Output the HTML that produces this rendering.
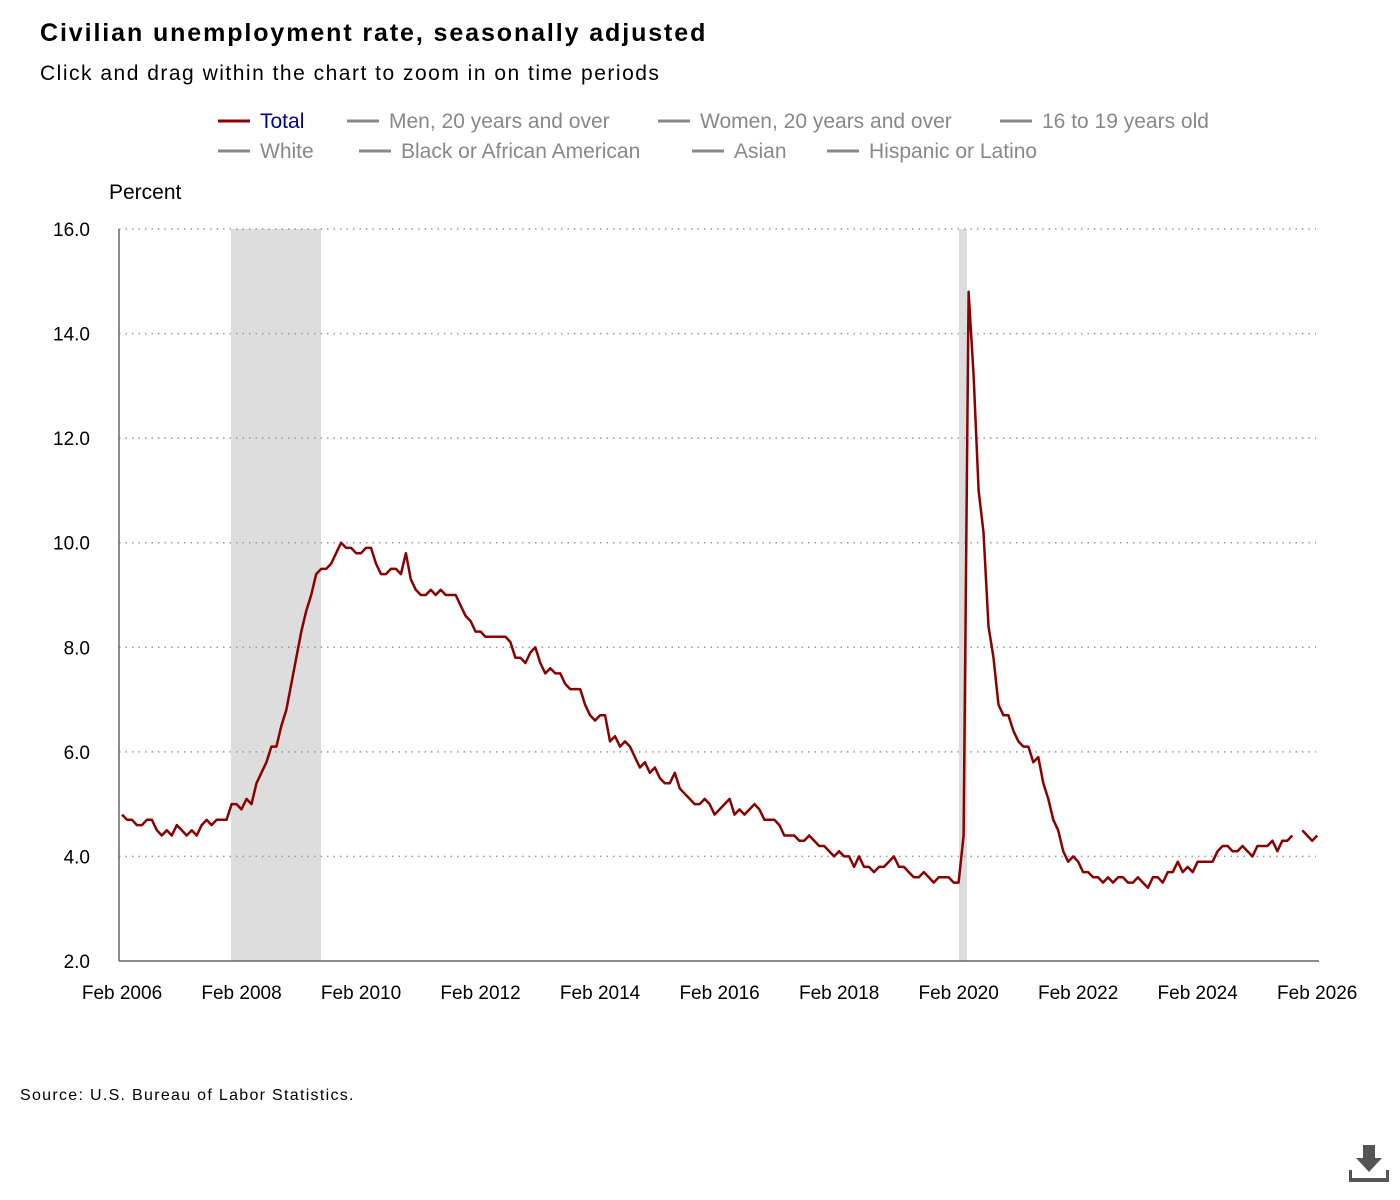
<!DOCTYPE html>
<html><head><meta charset="utf-8">
<style>
html,body{margin:0;padding:0;background:#fff;width:1400px;height:1200px;overflow:hidden;font-family:"Liberation Sans",sans-serif;}
</style></head>
<body>
<svg id="s" width="1400" height="1200" xmlns="http://www.w3.org/2000/svg" font-family="Liberation Sans, sans-serif">
<text x="40" y="41" font-size="25" font-weight="bold" fill="#000" letter-spacing="1.9">Civilian unemployment rate, seasonally adjusted</text>
<text x="40" y="80" font-size="21" fill="#000" letter-spacing="1.5">Click and drag within the chart to zoom in on time periods</text>
<g font-size="21" fill="#888">
<line x1="218" y1="121" x2="250" y2="121" stroke="#8b0000" stroke-width="3"/><text x="260" y="128" fill="#00008b">Total</text>
<line x1="347" y1="121" x2="379" y2="121" stroke="#888" stroke-width="3"/><text x="389" y="128">Men, 20 years and over</text>
<line x1="658" y1="121" x2="690" y2="121" stroke="#888" stroke-width="3"/><text x="700" y="128">Women, 20 years and over</text>
<line x1="1000" y1="121" x2="1032" y2="121" stroke="#888" stroke-width="3"/><text x="1042" y="128">16 to 19 years old</text>
<line x1="218" y1="151" x2="250" y2="151" stroke="#888" stroke-width="3"/><text x="260" y="158">White</text>
<line x1="359" y1="151" x2="391" y2="151" stroke="#888" stroke-width="3"/><text x="401" y="158">Black or African American</text>
<line x1="692" y1="151" x2="724" y2="151" stroke="#888" stroke-width="3"/><text x="734" y="158">Asian</text>
<line x1="827" y1="151" x2="859" y2="151" stroke="#888" stroke-width="3"/><text x="869" y="158">Hispanic or Latino</text>
</g>
<text x="109" y="199" font-size="21" fill="#000">Percent</text>
<rect x="231" y="229" width="90" height="732" fill="#dddddd"/>
<rect x="959" y="229" width="8" height="732" fill="#dddddd"/>
<g id="grid"></g>
<line x1="119" y1="229" x2="119" y2="961" stroke="#666" stroke-width="1.5"/>
<line x1="119" y1="961" x2="1319" y2="961" stroke="#666" stroke-width="1.5"/>
<g id="lab" font-size="19" fill="#000"></g>
<path id="p" fill="none" stroke="#8b0000" stroke-width="2.5" stroke-linejoin="round"/>
<text x="20" y="1100" font-size="16" fill="#000" letter-spacing="1.3">Source: U.S. Bureau of Labor Statistics.</text>
<g fill="#555"><rect x="1363" y="1145" width="12" height="14"/><polygon points="1356,1158 1382,1158 1369,1172"/><rect x="1349" y="1178" width="40" height="4"/><rect x="1349" y="1170" width="3" height="10"/><rect x="1386" y="1170" width="3" height="10"/></g>
</svg>
<script>
var d=[4.8,4.7,4.7,4.6,4.6,4.7,4.7,4.5,4.4,4.5,4.4,
4.6,4.5,4.4,4.5,4.4,4.6,4.7,4.6,4.7,4.7,4.7,5.0,
5.0,4.9,5.1,5.0,5.4,5.6,5.8,6.1,6.1,6.5,6.8,7.3,
7.8,8.3,8.7,9.0,9.4,9.5,9.5,9.6,9.8,10.0,9.9,9.9,
9.8,9.8,9.9,9.9,9.6,9.4,9.4,9.5,9.5,9.4,9.8,9.3,
9.1,9.0,9.0,9.1,9.0,9.1,9.0,9.0,9.0,8.8,8.6,8.5,
8.3,8.3,8.2,8.2,8.2,8.2,8.2,8.1,7.8,7.8,7.7,7.9,
8.0,7.7,7.5,7.6,7.5,7.5,7.3,7.2,7.2,7.2,6.9,6.7,
6.6,6.7,6.7,6.2,6.3,6.1,6.2,6.1,5.9,5.7,5.8,5.6,
5.7,5.5,5.4,5.4,5.6,5.3,5.2,5.1,5.0,5.0,5.1,5.0,
4.8,4.9,5.0,5.1,4.8,4.9,4.8,4.9,5.0,4.9,4.7,4.7,
4.7,4.6,4.4,4.4,4.4,4.3,4.3,4.4,4.3,4.2,4.2,4.1,
4.0,4.1,4.0,4.0,3.8,4.0,3.8,3.8,3.7,3.8,3.8,3.9,
4.0,3.8,3.8,3.7,3.6,3.6,3.7,3.6,3.5,3.6,3.6,3.6,
3.5,3.5,4.4,14.8,13.2,11.0,10.2,8.4,7.8,6.9,6.7,6.7,
6.4,6.2,6.1,6.1,5.8,5.9,5.4,5.1,4.7,4.5,4.1,3.9,
4.0,3.9,3.7,3.7,3.6,3.6,3.5,3.6,3.5,3.6,3.6,3.5,
3.5,3.6,3.5,3.4,3.6,3.6,3.5,3.7,3.7,3.9,3.7,3.8,
3.7,3.9,3.9,3.9,3.9,4.1,4.2,4.2,4.1,4.1,4.2,4.1,
4.0,4.2,4.2,4.2,4.3,4.1,4.3,4.3,4.4,null,4.5,4.4,4.3,4.4];
function X(n){return 122+n*4.98;}function Y(v){return 961-(v-2)*52.2857;}
var s="",pen=false;
d.forEach(function(v,i){if(v===null){pen=false;return;}s+=(pen?"L":"M")+X(i).toFixed(1)+","+Y(v).toFixed(1);pen=true;});
document.getElementById("p").setAttribute("d",s);
var g=document.getElementById("grid"),l=document.getElementById("lab"),ns="http://www.w3.org/2000/svg";
for(var v=2;v<=16;v+=2){var y=Y(v);
if(v>2){var ln=document.createElementNS(ns,"line");ln.setAttribute("x1",119);ln.setAttribute("x2",1316);ln.setAttribute("y1",y);ln.setAttribute("y2",y);ln.setAttribute("stroke","#999");ln.setAttribute("stroke-width","1.5");ln.setAttribute("stroke-dasharray","1.5,5");g.appendChild(ln);}
var t=document.createElementNS(ns,"text");t.setAttribute("x",90);t.setAttribute("y",y+7);t.setAttribute("text-anchor","end");t.textContent=v.toFixed(1);l.appendChild(t);}
for(var k=0;k<=10;k++){var t=document.createElementNS(ns,"text");t.setAttribute("x",X(k*24));t.setAttribute("y",999);t.setAttribute("text-anchor","middle");t.textContent="Feb "+(2006+2*k);l.appendChild(t);}
</script>
</body></html>
